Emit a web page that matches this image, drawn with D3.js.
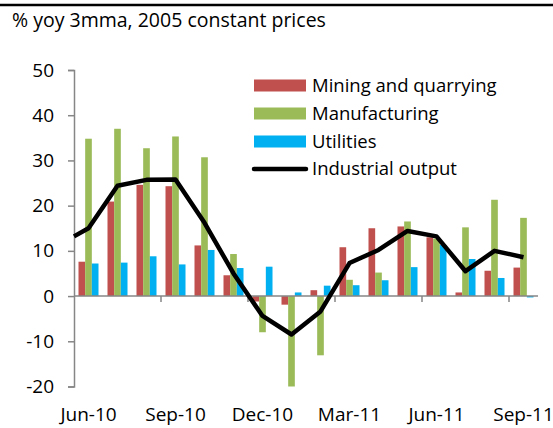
<!DOCTYPE html>
<html>
<head>
<meta charset="utf-8">
<script src="https://cdn.jsdelivr.net/npm/d3@7"></script>
<style>
  body { margin: 0; background: #fff; }
  svg text { font-family: "Open Sans", "Noto Sans", sans-serif; fill: #000; }
</style>
</head>
<body>
<svg id="chart" width="553" height="428"></svg>
<script>
// chart values
const categories = ['Jun-10', 'Jul-10', 'Aug-10', 'Sep-10', 'Oct-10', 'Nov-10', 'Dec-10', 'Jan-11',
  'Feb-11', 'Mar-11', 'Apr-11', 'May-11', 'Jun-11', 'Jul-11', 'Aug-11', 'Sep-11'];
const mining = [7.6, 20.9, 24.6, 24.3, 11.2, 4.6, -1.2, -1.9, 1.3, 10.8, 15.0, 15.4, 13.0, 0.8, 5.6, 6.3];
const manufacturing = [34.8, 37.0, 32.7, 35.3, 30.7, 9.3, -8.0, -20.0, -13.1, 3.6, 5.2, 16.5, 12.7, 15.2, 21.3, 17.3];
const utilities = [7.2, 7.4, 8.8, 7.0, 10.2, 6.2, 6.5, 0.8, 2.3, 2.4, 3.5, 6.4, 11.3, 8.2, 4.0, -0.3];
const industrial = [15.0, 24.4, 25.7, 25.8, 16.2, 5.0, -4.4, -8.5, -3.4, 7.3, 10.2, 14.4, 13.2, 5.5, 10.0, 8.6];
// the line enters the plot at the left edge with this value
const industrialLeadIn = 13.2;
const yTicks = [-20, -10, 0, 10, 20, 30, 40, 50];
const xLabels = ['Jun-10', 'Sep-10', 'Dec-10', 'Mar-11', 'Jun-11', 'Sep-11'];
const xTickCats = ['Sep-10', 'Dec-10', 'Mar-11', 'Jun-11', 'Sep-11'];

const barSeries = [
  { name: 'Mining and quarrying', values: mining, color: '#C0504D' },
  { name: 'Manufacturing', values: manufacturing, color: '#9BBB59' },
  { name: 'Utilities', values: utilities, color: '#00B0F0' }
];

const svg = d3.select('#chart');
const axisColor = '#868686';
const axisFont = 19;
const legendFont = 18.5;

// top rule
svg.append('line')
  .attr('x1', 0).attr('x2', 553)
  .attr('y1', 5).attr('y2', 5)
  .attr('stroke', '#000').attr('stroke-width', 2.5);

svg.append('text')
  .attr('x', 12).attr('y', 27)
  .style('font-size', '19.5px')
  .text('% yoy 3mma, 2005 constant prices');

const x = d3.scaleBand().domain(categories).range([74, 538]).padding(0);
const y = d3.scaleLinear().domain([-20, 50]).range([386.5, 70]);
const groupW = 20;
const x1 = d3.scaleBand().domain(barSeries.map(s => s.name))
  .range([(x.bandwidth() - groupW) / 2, (x.bandwidth() + groupW) / 2]).padding(0);

// bars
const barLayer = svg.append('g');
barSeries.forEach(s => {
  barLayer.append('g').selectAll('rect')
    .data(s.values)
    .join('rect')
    .attr('x', (d, i) => x(categories[i]) + x1(s.name))
    .attr('width', x1.bandwidth())
    .attr('y', d => y(Math.max(0, d)))
    .attr('height', d => Math.abs(y(d) - y(0)))
    .attr('fill', s.color);
});

// y axis
const yAxis = svg.append('g')
  .attr('transform', 'translate(74,0)')
  .call(d3.axisLeft(y).tickValues(yTicks).tickFormat(d => String(d))
    .tickSizeOuter(0).tickSize(6).tickPadding(14));
yAxis.select('.domain').attr('stroke', axisColor).attr('stroke-width', 1.5);
yAxis.selectAll('.tick line').attr('stroke', axisColor).attr('stroke-width', 1.5);
yAxis.selectAll('.tick text')
  .style('font-size', axisFont + 'px')
  .attr('fill', '#000');

// x axis at zero
const xAxisG = svg.append('g').attr('transform', `translate(0,${y(0)})`);
xAxisG.append('line')
  .attr('x1', x.range()[0]).attr('x2', x.range()[1])
  .attr('stroke', axisColor).attr('stroke-width', 1.5);
xAxisG.selectAll('line.tick')
  .data(xTickCats)
  .join('line')
  .attr('class', 'tick')
  .attr('x1', d => x(d)).attr('x2', d => x(d))
  .attr('y1', 0).attr('y2', 6)
  .attr('stroke', axisColor).attr('stroke-width', 1.5);

svg.append('g').selectAll('text')
  .data(xLabels)
  .join('text')
  .attr('x', d => x(d) + x.bandwidth() / 2)
  .attr('y', 421)
  .attr('text-anchor', 'middle')
  .style('font-size', axisFont + 'px')
  .text(d => d);

// industrial output line
const linePts = [[x.range()[0], industrialLeadIn]]
  .concat(industrial.map((v, i) => [x(categories[i]) + x.bandwidth() / 2, v]));
svg.append('path')
  .datum(linePts)
  .attr('fill', 'none')
  .attr('stroke', '#000')
  .attr('stroke-width', 4.5)
  .attr('stroke-linejoin', 'round')
  .attr('d', d3.line().x(d => d[0]).y(d => y(d[1])));

// legend
const legend = svg.append('g').attr('transform', 'translate(254,0)');
const rowY = [85.5, 113.5, 141.5, 169];
barSeries.forEach((s, i) => {
  legend.append('rect')
    .attr('x', 0).attr('y', rowY[i] - 6)
    .attr('width', 52).attr('height', 12)
    .attr('fill', s.color);
  legend.append('text')
    .attr('x', 58).attr('y', rowY[i])
    .attr('dy', '0.35em')
    .style('font-size', legendFont + 'px')
    .text(s.name);
});
legend.append('line')
  .attr('x1', 0).attr('x2', 52)
  .attr('y1', rowY[3]).attr('y2', rowY[3])
  .attr('stroke', '#000').attr('stroke-width', 4.5)
  .attr('stroke-linecap', 'round');
legend.append('text')
  .attr('x', 58).attr('y', rowY[3])
  .attr('dy', '0.35em')
  .style('font-size', legendFont + 'px')
  .text('Industrial output');
</script>
</body>
</html>
